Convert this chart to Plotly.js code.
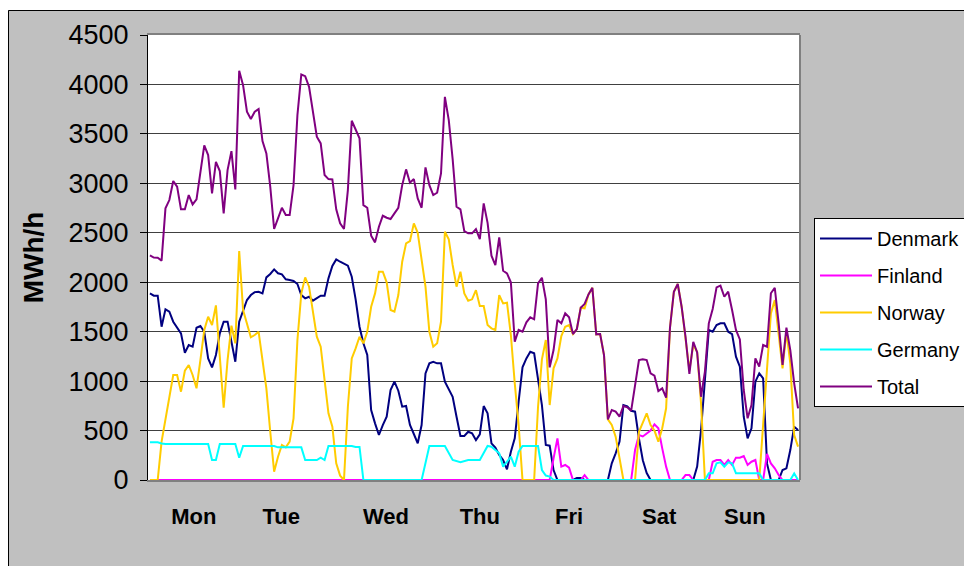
<!DOCTYPE html>
<html>
<head>
<meta charset="utf-8">
<script src="https://cdn.plot.ly/plotly-3.0.1.min.js"></script>
<style>
html,body{margin:0;padding:0;background:#ffffff;}
#chart{width:964px;height:566px;}
</style>
</head>
<body>
<div id="chart"></div>
<script>
// Hour of the week (0 = Monday 00:00) and MWh/h values
const dayLabels = ['Mon', 'Tue', 'Wed', 'Thu', 'Fri', 'Sat', 'Sun'];
const dayLabelHours = [11.3, 33.8, 60.8, 85, 108, 131.2, 153.3];

const denmarkHours = [0,1,2,3,4,5,6,8,9,10,11,12,13,14,15,16,17,18,19,20,21,22,23,24,25,26,27,28,29,30,31,32,33,34,35,36,37,38,39,40,41,42,44,45,46,47,48,49,50,51,52,53,54,55,56,57,58,59,60,61,62,63,64,65,66,67,68,69,70,71,72,73,74,75,76,77,78,79,80,81,82,83,84,85,86,87,88,89,90,91,92,93,94,95,96,97,98,99,100,101,102,103,104,105,109,110,111,112,118,119,120,121,122,123,124,125,126,127,128,129,140,141,142,143,144,145,146,147,148,149,150,151,152,153,154,155,156,157,158,159,160,162,163,164,165,166,167];
const denmarkMWh = [1887,1864,1864,1550,1726,1702,1601,1483,1287,1365,1348,1540,1557,1499,1230,1139,1264,1483,1601,1601,1398,1196,1601,1719,1820,1870,1900,1904,1887,2049,2083,2130,2090,2079,2029,2022,2012,1982,1870,1837,1853,1813,1864,1864,2039,2164,2231,2207,2190,2167,2055,1827,1550,1382,1264,708,573,455,556,640,910,994,903,741,748,556,465,371,556,1078,1180,1196,1180,1180,994,910,842,640,445,445,488,472,404,462,748,674,371,327,253,202,108,286,421,792,1139,1230,1297,1281,1028,758,354,347,100,0,0,20,20,0,0,168,270,388,758,745,700,691,420,200,70,0,0,135,506,1011,1517,1499,1567,1584,1584,1499,1476,1247,1146,640,421,523,994,1078,1028,168,0,0,101,118,303,539,506];

const finlandHours = [0,103,104,105,106,107,108,109,111,112,113,124,125,126,127,128,129,130,131,132,133,134,137,138,139,140,144,145,146,147,148,149,150,151,152,153,154,155,156,157,158,159,160,161,162,163,167];
const finlandMWh = [0,0,219,421,135,152,124,0,0,50,0,0,303,455,440,470,500,563,523,320,135,0,0,50,50,0,0,185,202,202,152,202,152,226,226,243,152,185,202,0,0,263,168,118,50,0,0];

const norwayHours = [0,2,3,4,5,6,7,8,9,10,11,12,13,14,15,16,17,18,19,20,21,22,23,24,26,27,28,29,30,31,32,33,34,35,36,37,38,39,40,41,43,44,45,46,47,48,49,50,51,52,53,54,55,56,57,58,59,60,61,62,63,64,65,66,67,68,69,70,71,72,73,74,75,76,77,78,79,80,81,82,83,84,85,86,87,88,89,90,91,92,93,94,95,96,99,100,101,102,103,104,105,106,107,108,109,110,111,112,113,114,115,116,117,118,119,120,121,122,125,126,127,128,129,130,131,132,133,134,135,136,137,138,139,140,141,142,143,157,158,159,160,161,162,163,164,165,166,167];
const norwayMWh = [0,0,388,624,826,1062,1062,893,1105,1163,1062,927,1213,1517,1651,1567,1766,1264,731,1213,1560,1382,2315,1719,1443,1466,1499,1213,927,488,84,236,354,330,388,624,1415,1887,2049,1955,1449,1348,1011,674,539,168,44,0,741,1230,1331,1449,1382,1499,1752,1887,2106,2106,1999,1719,1702,1870,2207,2393,2416,2595,2500,2224,1955,1499,1348,1382,1601,2510,2433,2174,1955,2106,1887,1813,1827,1920,1759,1759,1567,1534,1517,1870,1786,1793,1466,978,556,0,0,741,1220,1415,758,1129,1230,1456,1550,1567,1476,1527,1742,1736,1877,1944,1473,1476,1264,613,556,438,236,0,0,488,580,674,556,500,388,523,725,1540,1904,1982,1752,1449,1112,1365,1297,775,0,0,573,1180,1685,1820,1499,1129,1499,1180,455,337];

const germanyHours = [0,2,3,4,15,16,17,18,22,23,24,32,33,39,40,43,44,45,46,52,53,54,55,70,72,76,78,80,82,85,87,88,90,91,93,94,95,96,100,101,102,103,104,143,144,145,146,147,148,149,150,151,157,158,165,166,167];
const germanyMWh = [381,381,370,364,364,202,202,364,364,226,344,344,330,330,202,202,226,202,344,344,334,334,0,0,344,344,202,179,202,202,344,337,270,135,236,135,286,344,344,101,45,34,0,0,67,67,168,179,135,179,168,67,67,0,0,67,0];

const totalHours = [0,1,2,3,4,5,6,7,8,9,10,11,12,13,14,15,16,17,18,19,20,21,22,23,24,25,26,27,28,29,30,31,32,33,34,35,36,37,38,39,40,41,43,44,45,46,47,48,49,50,51,52,53,54,55,56,57,58,59,60,61,62,63,64,65,66,67,68,69,70,71,72,73,74,75,76,77,78,79,80,81,82,83,84,85,86,87,88,89,90,91,92,93,94,95,96,97,98,99,100,101,102,103,104,105,106,107,108,109,110,111,112,113,114,115,116,117,118,119,120,121,122,123,124,126,127,128,129,130,131,132,133,134,135,136,137,138,139,140,141,142,143,144,145,146,147,148,149,150,151,152,153,154,155,156,157,158,159,160,161,162,163,164,165,166,167];
const totalMWh = [2272,2250,2248,2218,2747,2831,3023,2966,2737,2737,2881,2787,2838,3100,3384,3286,2898,3218,3124,2696,3134,3326,2939,4138,3993,3724,3650,3724,3751,3427,3303,2966,2538,2646,2753,2679,2679,2982,3690,4101,4084,3976,3471,3404,3084,3043,3040,2737,2595,2538,2932,3633,3549,3455,2780,2753,2470,2403,2561,2672,2652,2639,2696,2753,2982,3141,3006,3043,2848,2753,3161,2982,2881,2905,3100,3875,3640,3245,2763,2737,2517,2494,2494,2538,2436,2797,2601,2268,2174,2454,2116,2090,1999,1398,1517,1499,1594,1645,1625,1989,2045,1827,1139,1314,1618,1584,1685,1645,1476,1527,1742,1780,1877,1944,1473,1476,1264,613,708,691,640,748,735,701,1213,1220,1213,1078,1055,900,927,832,1540,1904,1982,1752,1449,1072,1398,1290,842,1095,1584,1729,1948,1965,1853,1904,1719,1517,1422,910,624,758,1230,1146,1365,1348,1888,1944,1584,1163,1540,1314,978,725];

const seriesNames = ['Denmark', 'Finland', 'Norway', 'Germany', 'Total'];
const seriesColors = ['#000080', '#ff00ff', '#ffcc00', '#00ffff', '#800080'];
const seriesHours = [denmarkHours, finlandHours, norwayHours, germanyHours, totalHours];
const seriesValues = [denmarkMWh, finlandMWh, norwayMWh, germanyMWh, totalMWh];

const FONT = 'Arial, "Liberation Sans", sans-serif';

const traces = seriesNames.map((name, i) => ({
  type: 'scatter',
  mode: 'lines',
  name: name,
  legendgroup: name,
  x: seriesHours[i],
  y: seriesValues[i],
  line: {color: seriesColors[i], width: 2},
  hoverinfo: 'x+y+name'
}));

// plot area in pixels: left 148, right 800, top 35, bottom 480
const PL = 148, PR = 800, PT = 35, PB = 480;
const px2x = p => (p - PL) / (PR - PL);
const py2y = p => (PB - p) / (PB - PT);

const layout = {
  width: 964,
  height: 566,
  margin: {l: PL, r: 964 - PR, t: PT, b: 566 - PB, pad: 0, autoexpand: false},
  paper_bgcolor: '#c0c0c0',
  plot_bgcolor: '#ffffff',
  font: {family: FONT, color: '#000000'},
  showlegend: true,
  xaxis: {
    range: [-0.5, 167.5],
    tickmode: 'array',
    tickvals: dayLabelHours,
    ticktext: dayLabels,
    ticks: '',
    showgrid: false,
    zeroline: false,
    showline: true,
    linecolor: '#808080',
    linewidth: 2,
    mirror: true,
    tickfont: {family: FONT, size: 22, color: '#000000', weight: 'bold'},
    ticklabelstandoff: 16,
    automargin: false,
    fixedrange: true
  },
  yaxis: {
    range: [0, 4500],
    tick0: 0,
    dtick: 500,
    ticks: 'outside',
    ticklen: 7,
    tickwidth: 1,
    tickcolor: '#000000',
    showgrid: true,
    gridcolor: '#404040',
    gridwidth: 1,
    zeroline: false,
    showline: true,
    linecolor: '#000000',
    linewidth: 1,
    tickfont: {family: FONT, size: 27, color: '#000000'},
    ticklabelstandoff: 6,
    title: {text: 'MWh/h', font: {family: FONT, size: 28, color: '#000000', weight: 'bold'}, standoff: 16},
    automargin: false,
    fixedrange: true
  },
  legend: {
    x: px2x(814),
    y: py2y(218),
    xanchor: 'left',
    yanchor: 'top',
    bgcolor: '#ffffff',
    bordercolor: '#000000',
    borderwidth: 1,
    font: {family: FONT, size: 20, color: '#000000'},
    traceorder: 'grouped',
    tracegroupgap: 8,
    itemwidth: 52
  },
  shapes: [
    // light strips outside the outer frame
    {type: 'rect', xref: 'paper', yref: 'paper', layer: 'below',
     x0: px2x(-20), x1: px2x(1000), y0: py2y(10), y1: py2y(-20),
     fillcolor: '#ffffff', line: {width: 0}},
    {type: 'rect', xref: 'paper', yref: 'paper', layer: 'below',
     x0: px2x(-20), x1: px2x(8), y0: py2y(600), y1: py2y(-20),
     fillcolor: '#ffffff', line: {width: 0}},
    // outer frame
    {type: 'rect', xref: 'paper', yref: 'paper', layer: 'above',
     x0: px2x(8.5), x1: px2x(1000), y0: py2y(600), y1: py2y(10.5),
     line: {color: '#000000', width: 1}},
    // right border of plot area
    {type: 'line', xref: 'paper', yref: 'paper', layer: 'above',
     x0: 1, x1: 1, y0: 0, y1: 1, line: {color: '#808080', width: 2}}
  ]
};

Plotly.newPlot('chart', traces, layout, {displayModeBar: false, staticPlot: true});
</script>
</body>
</html>
